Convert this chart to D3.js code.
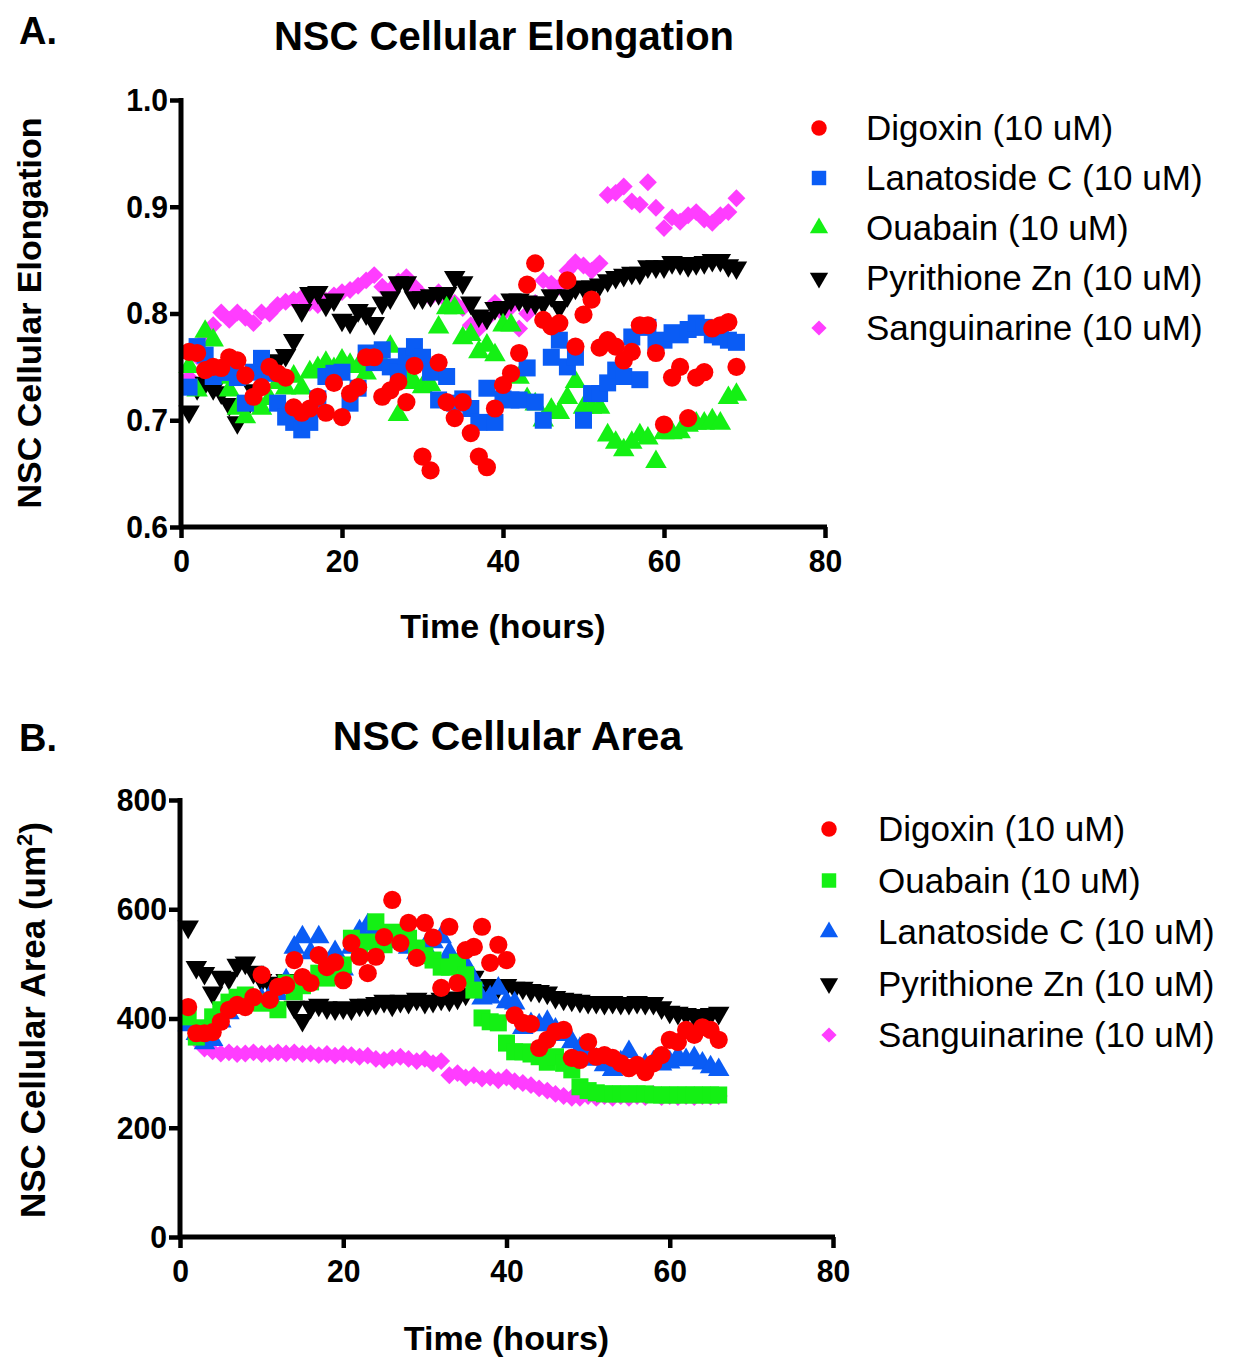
<!DOCTYPE html>
<html>
<head>
<meta charset="utf-8">
<script src="https://cdn.jsdelivr.net/npm/d3@7"></script>
<style>
  body { margin: 0; background: #fff; }
  svg { display: block; }
  .tick-lbl { font-family: "Liberation Sans", Arial, sans-serif; font-weight: bold; font-size: 32px; }
  .ttl { font-family: "Liberation Sans", Arial, sans-serif; font-weight: bold; }
  .leg { font-family: "Liberation Sans", Arial, sans-serif; font-size: 35px; }
</style>
</head>
<body>
<svg id="chart" width="1240" height="1357"></svg>
<script>
// Panel A: NSC cellular elongation (hourly)
const timesA = [1,2,3,4,5,6,7,8,9,10,11,12,13,14,15,16,17,18,19,20,21,22,23,24,25,26,27,28,29,30,
  31,32,33,34,35,36,37,38,39,40,41,42,43,44,45,46,47,48,49,50,51,52,53,54,55,56,57,58,59,60,
  61,62,63,64,65,66,67,68,69];
const digoxinA = [0.764,0.763,0.747,0.750,0.749,0.759,0.756,0.742,0.722,0.731,
  0.750,0.744,0.740,0.712,0.707,0.711,0.722,0.707,0.735,0.703,
  0.725,0.731,0.759,0.759,0.722,0.728,0.736,0.717,0.751,0.666,
  0.653,0.754,0.717,0.702,0.717,0.688,0.666,0.656,0.711,0.733,
  0.744,0.763,0.827,0.847,0.794,0.788,0.791,0.831,0.769,0.799,
  0.813,0.768,0.775,0.769,0.756,0.764,0.789,0.789,0.763,0.696,
  0.740,0.750,0.702,0.740,0.745,0.786,0.789,0.792,0.750];
const lanatosideA = [0.731,0.769,0.761,0.741,0.745,0.745,0.740,0.716,0.745,0.758,
  0.744,0.716,0.703,0.698,0.691,0.698,0.720,0.741,0.744,0.745,
  0.716,0.730,0.763,0.754,0.766,0.750,0.745,0.760,0.769,0.759,
  0.745,0.719,0.741,0.716,0.720,0.711,0.698,0.730,0.698,0.720,
  0.719,0.719,0.749,0.717,0.700,0.759,0.775,0.750,0.759,0.700,
  0.725,0.725,0.735,0.747,0.741,0.778,0.738,0.787,0.773,0.775,
  0.782,0.780,0.785,0.791,0.787,0.780,0.778,0.775,0.773];
const ouabainA = [0.750,0.728,0.783,0.775,0.740,0.728,0.711,0.703,0.715,0.711,
  0.720,0.735,0.730,0.741,0.730,0.745,0.749,0.754,0.748,0.756,
  0.752,0.750,0.744,0.760,0.755,0.769,0.705,0.740,0.735,0.731,
  0.733,0.787,0.805,0.805,0.777,0.780,0.764,0.770,0.761,0.789,
  0.789,0.740,0.720,0.715,0.700,0.710,0.707,0.721,0.736,0.712,
  0.712,0.712,0.686,0.679,0.672,0.679,0.686,0.683,0.661,0.688,
  0.688,0.689,0.695,0.697,0.697,0.700,0.697,0.721,0.724];
const pyrithioneA = [0.708,0.730,0.735,0.730,0.726,0.715,0.698,0.710,0.728,0.741,
  0.748,0.756,0.761,0.775,0.803,0.819,0.820,0.808,0.813,0.794,
  0.792,0.803,0.800,0.791,0.810,0.815,0.829,0.829,0.815,0.815,
  0.817,0.819,0.819,0.834,0.829,0.810,0.798,0.796,0.805,0.806,
  0.813,0.813,0.811,0.810,0.810,0.817,0.806,0.817,0.824,0.825,
  0.825,0.827,0.831,0.834,0.836,0.838,0.838,0.844,0.844,0.844,
  0.848,0.847,0.845,0.847,0.848,0.850,0.850,0.845,0.843];
const sanguinarineA = [0.740,0.760,0.778,0.789,0.801,0.794,0.801,0.796,0.791,0.801,
  0.800,0.808,0.811,0.813,0.815,0.810,0.808,0.812,0.817,0.820,
  0.822,0.826,0.831,0.836,0.825,0.822,0.830,0.834,0.825,0.817,
  0.815,0.820,0.812,0.810,0.805,0.789,0.786,0.795,0.810,0.800,
  0.806,0.786,0.800,0.810,0.831,0.828,0.825,0.840,0.848,0.845,
  0.840,0.847,0.911,0.913,0.919,0.905,0.902,0.923,0.899,0.880,
  0.890,0.886,0.892,0.895,0.888,0.885,0.892,0.895,0.908];

// Panel B: NSC cellular area (um^2, hourly)
const timesB = [1,2,3,4,5,6,7,8,9,10,11,12,13,14,15,16,17,18,19,20,21,22,23,24,25,26,27,28,29,30,
  31,32,33,34,35,36,37,38,39,40,41,42,43,44,45,46,47,48,49,50,51,52,53,54,55,56,57,58,59,60,
  61,62,63,64,65,66];
const digoxinB = [421,373,373,375,394,416,425,421,439,480,
  434,458,461,507,476,465,516,494,503,470,
  538,513,483,513,549,617,538,575,511,575,
  548,456,568,465,525,531,568,502,535,507,
  406,392,390,346,361,376,379,328,324,357,
  330,333,328,318,309,315,302,318,333,361,
  357,379,370,384,379,361];
const ouabainB = [403,366,383,403,416,430,439,443,430,428,
  430,416,465,449,460,467,483,474,489,498,
  547,520,540,577,535,558,556,547,529,515,
  507,494,494,503,480,452,401,394,392,355,
  339,339,335,330,320,330,318,306,275,268,
  264,262,262,262,262,262,262,260,260,260,
  260,260,260,260,260,260];
const lanatosideB = [388,372,355,361,395,410,420,425,430,435,
  440,445,470,530,549,520,549,500,522,490,
  530,560,571,565,550,540,545,530,520,530,
  540,549,520,500,498,470,437,439,455,430,
  428,383,390,388,394,380,370,357,345,335,
  325,315,306,320,339,311,315,320,316,320,
  330,324,328,318,311,306];
const pyrithioneB = [568,494,483,447,476,474,498,502,485,470,
  465,452,470,421,397,421,425,420,418,420,
  418,425,425,428,432,425,432,430,436,430,
  432,436,434,438,445,476,458,461,458,461,
  456,456,452,450,447,439,436,434,432,430,
  430,428,430,428,428,430,428,428,420,412,
  410,408,406,406,408,410];
const sanguinarineB = [395,360,345,340,336,338,335,336,338,335,
  336,338,336,338,335,336,333,335,332,335,
  333,330,332,326,324,328,330,326,322,326,
  318,322,296,300,292,296,290,292,287,292,
  285,282,278,272,268,262,258,255,255,258,
  255,258,255,258,255,258,256,262,256,258,
  256,258,256,258,257,258];

const xTicks = [0, 20, 40, 60, 80];
const yTicksA = [0.6, 0.7, 0.8, 0.9, 1.0];
const yTicksB = [0, 200, 400, 600, 800];

const RED = '#ff0000', BLUE = '#0a5cf5', GREEN = '#14f014', BLACK = '#000000', PINK = '#ff3dff';

// marker shapes
const shapes = {
  circle: () => d3.symbol(d3.symbolCircle, 260)(),
  square: () => d3.symbol(d3.symbolSquare, 289)(),
  up: () => d3.symbol(d3.symbolTriangle, 200)(),
  down: () => d3.symbol(d3.symbolTriangle, 200)(),
  diamond: () => d3.symbol(d3.symbolSquare, 160)()
};
const shapeRot = { circle: 0, square: 0, up: 0, down: 180, diamond: 45 };

const svg = d3.select('#chart');

// squeeze text horizontally to mimic the condensed tick font
function condense(sel, k) {
  sel.each(function () {
    const w = this.getComputedTextLength();
    d3.select(this).attr('textLength', w * k).attr('lengthAdjust', 'spacingAndGlyphs');
  });
}

function drawPanel(cfg) {
  const g = svg.append('g');
  const x = d3.scaleLinear().domain([0, 80]).range([cfg.left, cfg.right]);
  const y = d3.scaleLinear().domain(cfg.yDomain).range([cfg.bottom, cfg.top]);

  // panel letter + title
  g.append('text').attr('class', 'ttl').attr('x', 19).attr('y', cfg.letterY)
    .attr('font-size', 38).text(cfg.letter);
  g.append('text').attr('class', 'ttl').attr('x', (cfg.left + cfg.right) / 2 + 1).attr('y', cfg.titleY)
    .attr('text-anchor', 'middle').attr('font-size', cfg.titleSize).text(cfg.title);

  // series, last one drawn first so the first stays on top
  cfg.series.slice().reverse().forEach(s => {
    g.append('g').selectAll('path')
      .data(s.values.map((v, i) => [cfg.times[i], v]))
      .join('path')
      .attr('d', shapes[s.shape]())
      .attr('transform', d => `translate(${x(d[0])},${y(d[1])}) rotate(${shapeRot[s.shape]})`)
      .attr('fill', s.color);
  });

  // axes
  const xAxis = g.append('g').attr('transform', `translate(0,${cfg.bottom})`)
    .call(d3.axisBottom(x).tickValues(xTicks).tickSize(11).tickPadding(5).tickFormat(d3.format('d')));
  const yAxis = g.append('g').attr('transform', `translate(${cfg.left},0)`)
    .call(d3.axisLeft(y).tickValues(cfg.yTicks).tickSize(11).tickPadding(2).tickFormat(cfg.yFormat));
  [xAxis, yAxis].forEach(a => {
    a.select('.domain').attr('stroke', '#000').attr('stroke-width', 5)
      .attr('d', a === xAxis ? `M${cfg.left - 2},0H${cfg.right + 2}` : `M0,${cfg.bottom + 2}V${cfg.top - 2}`);
    a.selectAll('.tick line').attr('stroke', '#000').attr('stroke-width', 4.5);
    a.selectAll('.tick text').attr('class', 'tick-lbl').attr('fill', '#000').call(condense, 0.94);
  });
  xAxis.selectAll('.tick text').attr('dy', '0.9em');

  // axis titles
  g.append('text').attr('class', 'ttl').attr('font-size', 34)
    .attr('x', (cfg.left + cfg.right) / 2).attr('y', cfg.xTitleY)
    .attr('text-anchor', 'middle').text('Time (hours)');
  const yt = g.append('text').attr('class', 'ttl').attr('font-size', cfg.yTitleSize)
    .attr('transform', `translate(${cfg.yTitleX},${cfg.yTitleCY}) rotate(-90)`)
    .attr('text-anchor', 'middle');
  cfg.yTitle(yt);

  // legend
  cfg.series.forEach((s, i) => {
    const ly = cfg.legY + i * cfg.legStep;
    g.append('path').attr('d', shapes[s.shape]())
      .attr('transform', `translate(${cfg.legMX},${ly}) rotate(${shapeRot[s.shape]}) scale(0.85)`)
      .attr('fill', s.color);
    g.append('text').attr('class', 'leg').attr('x', cfg.legTX).attr('y', ly + 12).text(s.name);
  });
}

drawPanel({
  letter: 'A.', letterY: 44, title: 'NSC Cellular Elongation', titleY: 50, titleSize: 40,
  left: 181, right: 825, top: 100, bottom: 527,
  yDomain: [0.6, 1.0], yTicks: yTicksA, yFormat: d3.format('.1f'),
  times: timesA, xTitleY: 638, yTitleX: 41, yTitleCY: 313, yTitleSize: 34,
  yTitle: t => t.text('NSC Cellular Elongation'),
  legMX: 819, legTX: 866, legY: 128, legStep: 50,
  series: [
    { name: 'Digoxin (10 uM)', values: digoxinA, color: RED, shape: 'circle' },
    { name: 'Lanatoside C (10 uM)', values: lanatosideA, color: BLUE, shape: 'square' },
    { name: 'Ouabain (10 uM)', values: ouabainA, color: GREEN, shape: 'up' },
    { name: 'Pyrithione Zn (10 uM)', values: pyrithioneA, color: BLACK, shape: 'down' },
    { name: 'Sanguinarine (10 uM)', values: sanguinarineA, color: PINK, shape: 'diamond' }
  ]
});

drawPanel({
  letter: 'B.', letterY: 751, title: 'NSC Cellular Area', titleY: 750, titleSize: 41,
  left: 180, right: 833, top: 800, bottom: 1237,
  yDomain: [0, 800], yTicks: yTicksB, yFormat: d3.format('d'),
  times: timesB, xTitleY: 1350, yTitleX: 45, yTitleCY: 1020, yTitleSize: 35,
  yTitle: t => { t.append('tspan').text('NSC Cellular Area (um');
    t.append('tspan').attr('font-size', 22).attr('dy', -13).text('2');
    t.append('tspan').attr('dy', 13).text(')'); },
  legMX: 829, legTX: 878, legY: 829, legStep: 51.5,
  series: [
    { name: 'Digoxin (10 uM)', values: digoxinB, color: RED, shape: 'circle' },
    { name: 'Ouabain (10 uM)', values: ouabainB, color: GREEN, shape: 'square' },
    { name: 'Lanatoside C (10 uM)', values: lanatosideB, color: BLUE, shape: 'up' },
    { name: 'Pyrithione Zn (10 uM)', values: pyrithioneB, color: BLACK, shape: 'down' },
    { name: 'Sanguinarine (10 uM)', values: sanguinarineB, color: PINK, shape: 'diamond' }
  ]
});
</script>
</body>
</html>
